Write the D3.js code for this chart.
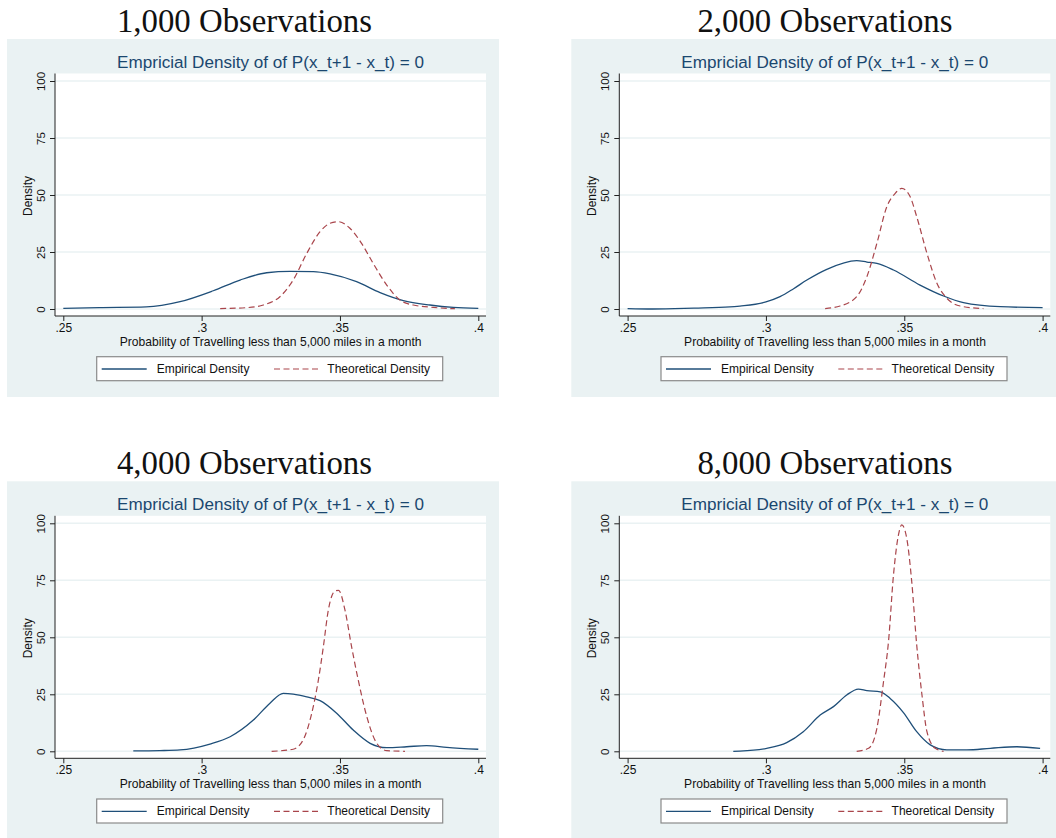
<!DOCTYPE html>
<html>
<head>
<meta charset="utf-8">
<script src="https://cdn.jsdelivr.net/npm/d3@7"></script>
<style>
  html, body { margin: 0; padding: 0; background: #ffffff; }
  svg { display: block; }
  text { font-family: "Liberation Sans", Arial, Helvetica, sans-serif; }
</style>
</head>
<body>
<svg id="chart" width="1056" height="838"></svg>
<script>
// Panel headings (sample sizes)
const panelTitles = ["1,000 Observations", "2,000 Observations", "4,000 Observations", "8,000 Observations"];
const chartTitle = "Empricial Density of of P(x_t+1 - x_t) = 0";
const xAxisTitle = "Probability of Travelling less than 5,000 miles in a month";
const yAxisTitle = "Density";
const seriesNames = ["Empirical Density", "Theoretical Density"];

// Axis ticks
const xTicks = [0.25, 0.30, 0.35, 0.40];
const xTickLabels = [".25", ".3", ".35", ".4"];
const yTicks = [0, 25, 50, 75, 100];
const yTickLabels = ["0", "25", "50", "75", "100"];

// Kernel density estimates, [probability, density]
const empirical1000 = [[0.25,0.3],[0.263,0.6],[0.28,0.9],[0.2922,3.2],[0.3042,8.0],[0.3139,12.7],[0.3235,15.9],[0.3319,16.5],[0.3404,16.4],[0.3464,15.4],[0.356,12.0],[0.3645,7.2],[0.3729,3.7],[0.3825,1.75],[0.391,0.7],[0.4,0.3]];
const theoretical1000 = [[0.3067,0.2],[0.3163,0.6],[0.3223,1.75],[0.3283,5.4],[0.3331,12.7],[0.338,24.4],[0.3428,33.9],[0.3464,37.6],[0.3494,38.3],[0.3536,35.4],[0.3578,28.8],[0.362,20.0],[0.3669,10.5],[0.3717,3.9],[0.3765,1.75],[0.3837,0.7],[0.3916,0.1]];

const empirical2000 = [[0.25,0.2],[0.259,0.0],[0.274,0.4],[0.287,0.9],[0.2906,1.3],[0.300,3.1],[0.3051,5.4],[0.310,8.9],[0.3148,12.7],[0.322,17.4],[0.3328,21.2],[0.3365,20.6],[0.3401,20.0],[0.3461,17.1],[0.3557,10.5],[0.3642,5.7],[0.3714,2.8],[0.3847,1.0],[0.4,0.6]];
const theoretical2000 = [[0.3214,0.2],[0.3268,1.3],[0.3328,5.4],[0.3365,14.2],[0.3401,28.8],[0.3437,44.9],[0.3467,50.7],[0.3491,52.9],[0.3521,49.3],[0.3545,40.5],[0.3582,24.4],[0.3618,11.3],[0.3654,4.7],[0.3702,1.3],[0.3786,0.2]];

const empirical4000 = [[0.2753,0.15],[0.2849,0.3],[0.2922,0.6],[0.303,3.2],[0.3103,6.4],[0.3187,13.7],[0.3247,21.1],[0.3295,25.4],[0.3331,25.1],[0.338,23.9],[0.3428,22.2],[0.3488,16.7],[0.3548,9.3],[0.3609,3.5],[0.3669,1.6],[0.3741,2.0],[0.3813,2.5],[0.3886,1.75],[0.4,0.9]];
const theoretical4000 = [[0.3253,0.0],[0.3331,0.9],[0.3367,5.0],[0.3398,16.7],[0.3422,31.3],[0.344,45.9],[0.3458,62.0],[0.3482,70.3],[0.3495,70.6],[0.3518,62.0],[0.3542,45.9],[0.3566,31.3],[0.3597,15.2],[0.3633,3.5],[0.3669,0.3],[0.3735,0.0]];

const empirical8000 = [[0.2882,0.0],[0.2906,0.1],[0.3003,1.3],[0.3075,3.8],[0.3135,8.6],[0.3196,15.9],[0.3244,19.6],[0.3292,24.7],[0.3334,27.3],[0.3365,26.6],[0.3413,26.1],[0.3449,23.2],[0.3497,17.0],[0.3545,8.6],[0.3594,2.8],[0.3654,0.6],[0.3726,0.6],[0.3811,1.3],[0.3907,2.0],[0.3991,1.3]];
const theoretical8000 = [[0.3328,0.0],[0.3371,1.3],[0.3401,10.1],[0.3425,30.5],[0.3443,48.1],[0.3461,77.3],[0.3479,94.9],[0.3491,99.3],[0.3509,93.4],[0.3527,74.4],[0.3545,46.6],[0.3564,24.7],[0.3582,8.6],[0.3612,1.3],[0.3642,0.0]];

const empiricalSeries = [empirical1000, empirical2000, empirical4000, empirical8000];
const theoreticalSeries = [theoretical1000, theoretical2000, theoretical4000, theoretical8000];

// Stata s2color-like palette
const colors = {
  page: "#eaf2f3",
  plot: "#ffffff",
  grid: "#eaf2f3",
  empirical: "#1f4f79",
  theoretical: "#a9454b",
  title: "#1a476f",
  axis: "#222222",
  legendBorder: "#8a8a8a"
};

const svg = d3.select("#chart");

// Panel placement: column/row offsets and heading centre
const layout = [
  { ox: 0,     oy: 0,     hx: 244.5 },
  { ox: 564.3, oy: 0,     hx: 260.7 },
  { ox: 0,     oy: 442.3, hx: 244.5 },
  { ox: 564.3, oy: 442.3, hx: 260.7 }
];

const x = d3.scaleLinear().domain([0.25, 0.40]).range([63.3, 478.3]);
const y = d3.scaleLinear().domain([0, 100]).range([309, 81]);

const line = d3.line()
  .x(d => x(d[0]))
  .y(d => y(d[1]))
  .curve(d3.curveMonotoneX);

layout.forEach((p, i) => {
  const g = svg.append("g").attr("transform", `translate(${p.ox},${p.oy})`);

  // Serif heading above each graph
  g.append("text")
    .attr("x", p.hx).attr("y", 31.5)
    .attr("text-anchor", "middle")
    .style("font-family", "'Liberation Serif', 'Times New Roman', serif")
    .style("font-size", "32.8px")
    .attr("fill", "#111")
    .text(panelTitles[i]);

  // Graph background and plot region
  g.append("rect").attr("x", 7).attr("y", 39).attr("width", 492).attr("height", 358).attr("fill", colors.page);
  g.append("rect").attr("x", 55).attr("y", 73.5).attr("width", 431).attr("height", 242.5).attr("fill", colors.plot);

  // Gridlines
  g.append("g").selectAll("line").data(yTicks).join("line")
    .attr("x1", 55).attr("x2", 486)
    .attr("y1", d => y(d)).attr("y2", d => y(d))
    .attr("stroke", colors.grid).attr("stroke-width", 1.5);

  // Chart title
  g.append("text")
    .attr("x", 270.5).attr("y", 67.5)
    .attr("text-anchor", "middle")
    .style("font-size", "17.1px")
    .attr("fill", colors.title)
    .text(chartTitle);

  // Axes
  const xAxis = d3.axisBottom(x).tickValues(xTicks).tickFormat((d, k) => xTickLabels[k]).tickSize(5).tickSizeOuter(0);
  const gx = g.append("g").attr("transform", "translate(0,316)").call(xAxis);
  gx.select(".domain").attr("d", "M55,0H486").attr("stroke", colors.axis);
  gx.selectAll(".tick line").attr("stroke", colors.axis);
  gx.selectAll(".tick text").attr("y", 7).attr("dy", "0.71em").style("font-size", "12px").attr("fill", "#111");

  const yAxis = d3.axisLeft(y).tickValues(yTicks).tickFormat((d, k) => yTickLabels[k]).tickSize(5).tickSizeOuter(0);
  const gy = g.append("g").attr("transform", "translate(55,0)").call(yAxis);
  gy.select(".domain").attr("d", "M0,73.5V316").attr("stroke", colors.axis);
  gy.selectAll(".tick line").attr("stroke", colors.axis);
  gy.selectAll(".tick text")
    .attr("x", null).attr("dy", null)
    .attr("transform", "translate(-10,0) rotate(-90)")
    .attr("text-anchor", "middle")
    .style("font-size", "11.5px").attr("fill", "#111");

  // Axis titles
  g.append("text")
    .attr("transform", "translate(31.5,196) rotate(-90)")
    .attr("text-anchor", "middle")
    .style("font-size", "12px").attr("fill", "#111")
    .text(yAxisTitle);
  g.append("text")
    .attr("x", 270.7).attr("y", 345.5)
    .attr("text-anchor", "middle")
    .style("font-size", "12.1px").attr("fill", "#111")
    .text(xAxisTitle);

  // Density curves
  g.append("path").datum(empiricalSeries[i])
    .attr("d", line).attr("fill", "none")
    .attr("stroke", colors.empirical).attr("stroke-width", 1.3);
  g.append("path").datum(theoreticalSeries[i])
    .attr("d", line).attr("fill", "none")
    .attr("stroke", colors.theoretical).attr("stroke-width", 1.2)
    .attr("stroke-dasharray", "6,3.5");

  // Legend
  const lg = g.append("g");
  lg.append("rect").attr("x", 96.7).attr("y", 356.7).attr("width", 346).attr("height", 24)
    .attr("fill", "#fff").attr("stroke", colors.legendBorder).attr("stroke-width", 1.2);
  lg.append("line").attr("x1", 101.7).attr("x2", 146.7).attr("y1", 369).attr("y2", 369)
    .attr("stroke", colors.empirical).attr("stroke-width", 1.3);
  lg.append("text").attr("x", 156.7).attr("y", 373.2).style("font-size", "12px").attr("fill", "#111").text(seriesNames[0]);
  lg.append("line").attr("x1", 274).attr("x2", 320).attr("y1", 369).attr("y2", 369)
    .attr("stroke", colors.theoretical).attr("stroke-width", 1.2).attr("stroke-dasharray", "6,3.5");
  lg.append("text").attr("x", 327.3).attr("y", 373.2).style("font-size", "12px").attr("fill", "#111").text(seriesNames[1]);
});
</script>
</body>
</html>
